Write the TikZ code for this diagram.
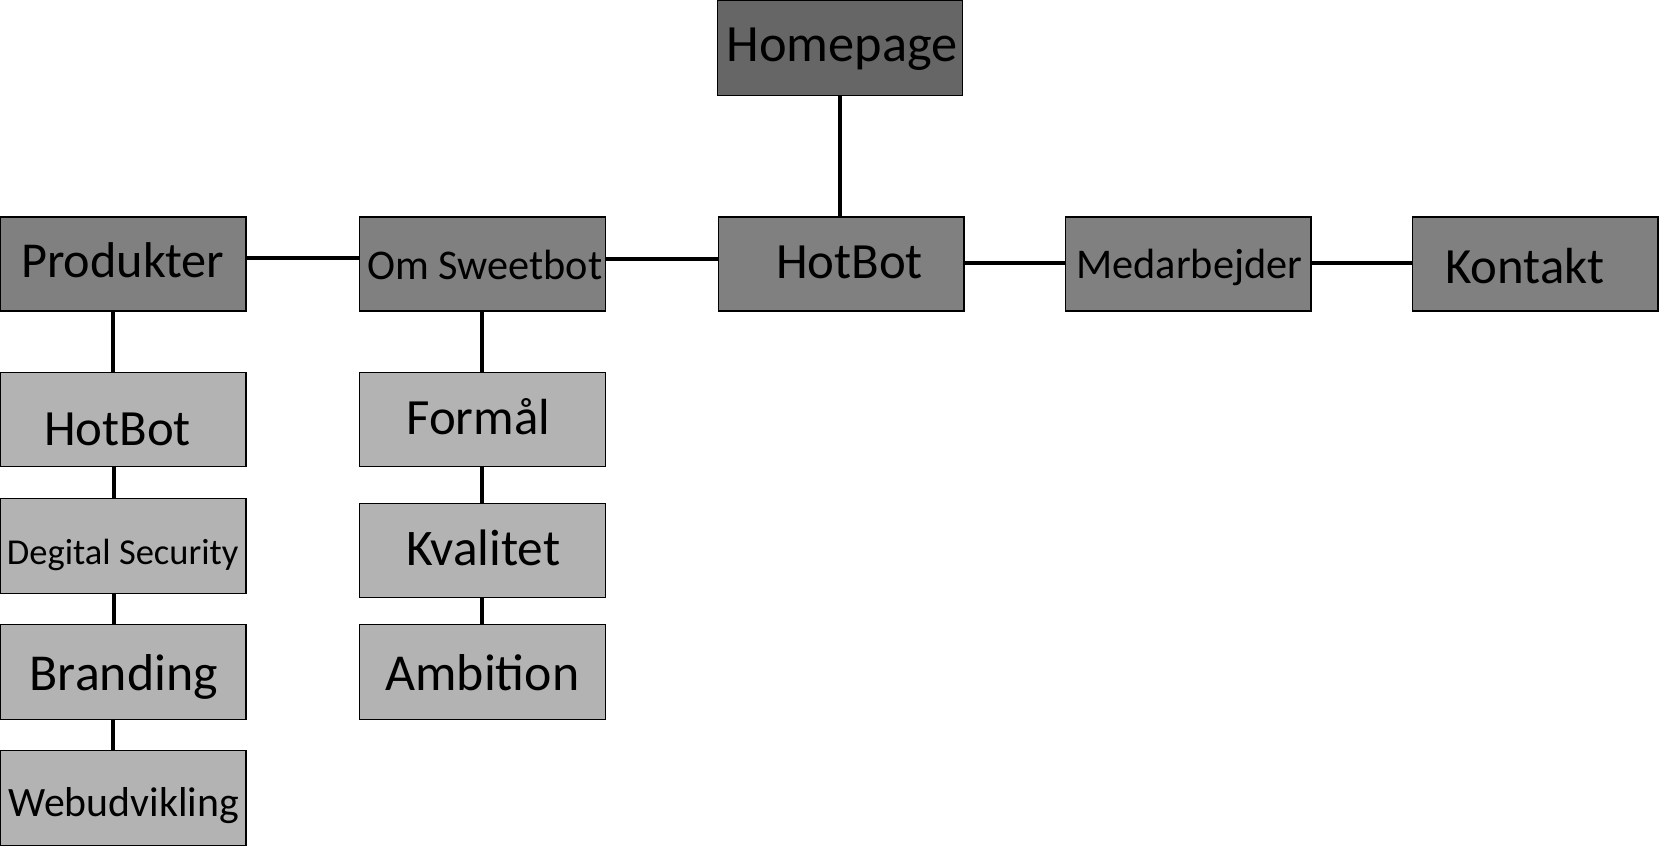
\documentclass[tikz,border=0pt]{standalone}
\usepackage{fontspec}
\setmainfont{Carlito}
\definecolor{darkbox}{HTML}{666666}
\definecolor{midbox}{HTML}{808080}
\definecolor{lightbox}{HTML}{B3B3B3}
\tikzset{
  box/.style={draw=black, line width=1.2pt, minimum width=232pt, minimum height=89pt, inner sep=0pt, outer sep=0pt},
  topbox/.style={box, fill=darkbox},
  mainbox/.style={box, fill=midbox},
  subbox/.style={box, fill=lightbox},
  lbl/.style={anchor=base, inner sep=0pt, text=black},
  big/.style={lbl, font=\fontsize{48}{48}\selectfont},
  med/.style={lbl, font=\fontsize{40}{40}\selectfont},
  small/.style={lbl, font=\fontsize{34.5}{34.5}\selectfont},
  conn/.style={draw=black, line width=3.8pt}
}
\begin{document}
\begin{tikzpicture}[x=1pt,y=-1pt]
\useasboundingbox (0,0) rectangle (1568,800);
% boxes
\node[topbox, minimum height=90pt] (hp) at (794,45) {};
\node[mainbox] (prod) at (116.5,249.5) {};
\node[mainbox] (om) at (456,249.5) {};
\node[mainbox] (hb) at (795,249.5) {};
\node[mainbox] (med) at (1123,249.5) {};
\node[mainbox] (kon) at (1451,249.5) {};
\node[subbox] (l1) at (116.5,396.5) {};
\node[subbox, minimum height=90pt] (l2) at (116.5,516) {};
\node[subbox, minimum height=90pt] (l3) at (116.5,635) {};
\node[subbox, minimum height=90pt] (l4) at (116.5,754) {};
\node[subbox] (r1) at (456,396.5) {};
\node[subbox] (r2) at (456,520.5) {};
\node[subbox, minimum height=90pt] (r3) at (456,635) {};
% connectors
\draw[conn] (hp.south) -- (hp.south |- hb.north);
\draw[conn] ([yshift=5.5pt]prod.east) -- ([yshift=5.5pt]om.west);
\draw[conn] ([yshift=4.5pt]om.east) -- ([yshift=4.5pt]hb.west);
\draw[conn] ([yshift=0.5pt]hb.east) -- ([yshift=0.5pt]med.west);
\draw[conn] ([yshift=0.5pt]med.east) -- ([yshift=0.5pt]kon.west);
\draw[conn] ([xshift=-9.5pt]prod.south) -- ([xshift=-9.5pt]l1.north);
\draw[conn] ([xshift=-8.5pt]l1.south) -- ([xshift=-8.5pt]l2.north);
\draw[conn] ([xshift=-8.5pt]l2.south) -- ([xshift=-8.5pt]l3.north);
\draw[conn] ([xshift=-9.5pt]l3.south) -- ([xshift=-9.5pt]l4.north);
\draw[conn] (om.south) -- (r1.north);
\draw[conn] (r1.south) -- (r2.north);
\draw[conn] (r2.south) -- (r3.north);
% labels
\node[big, font=\fontsize{49.5}{49.5}\selectfont] (thp) at (796,58) {Homepage};
\node[big] (thb) at (803,263) {HotBot};
\node[med] (tmed) at (1124,263) {Medarbejder};
\node[big] (tkon) at (1441,268) {Kontakt};
\node[big, font=\fontsize{47.5}{47.5}\selectfont] (tprod) at (116,262) {Produkter};
\node[med] (tom) at (458,264) {Om Sweetbot};
\node[big] (tl1) at (111,421.5) {HotBot};
\node[big] (tr1) at (452,411) {Formål};
\node[small] (tl2) at (116,534) {Degital Security};
\node[big, font=\fontsize{49}{49}\selectfont] (tl3) at (117,653) {Branding};
\node[med, font=\fontsize{39.5}{39.5}\selectfont] (tl4) at (117,772) {Webudvikling};
\node[big, font=\fontsize{48.5}{48.5}\selectfont] (tr2) at (457,534.5) {Kvalitet};
\node[big, font=\fontsize{49}{49}\selectfont] (tr3) at (456,653) {Ambition};
\end{tikzpicture}
\end{document}
